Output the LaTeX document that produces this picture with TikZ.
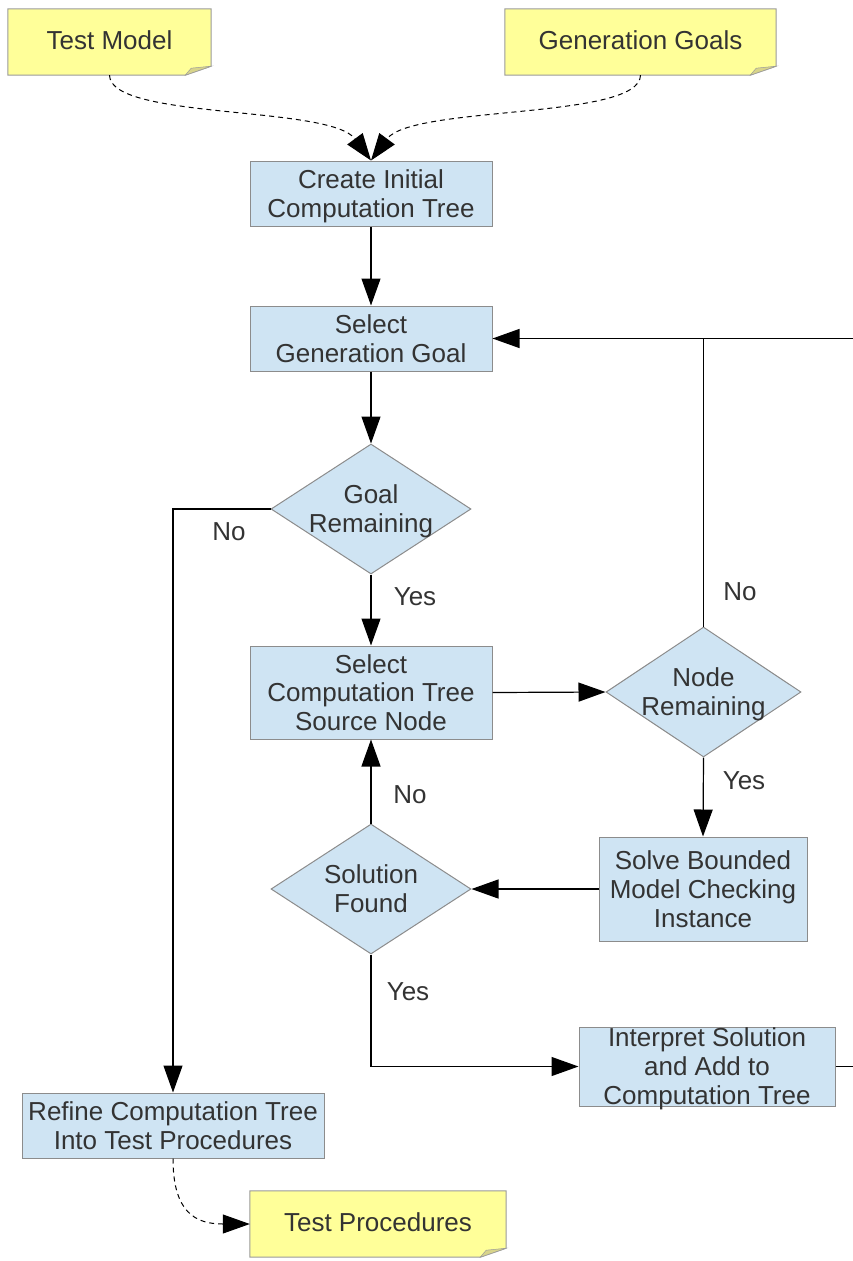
\documentclass[tikz,border=0pt]{standalone}
\usepackage{fontspec}
\setmainfont{Liberation Sans}
\usetikzlibrary{arrows.meta,shapes.geometric,backgrounds}

\definecolor{boxfill}{HTML}{CFE4F3}
\definecolor{boxline}{HTML}{8C8C8C}
\definecolor{notefill}{HTML}{FFFF99}
\definecolor{noteline}{HTML}{9B9B9B}
\definecolor{foldfill}{HTML}{D8D48A}
\definecolor{ink}{HTML}{333333}

% struts fixing the height and depth of first and last text lines
\newcommand\boxstrut{\rule[-5.1pt]{0pt}{28.8pt}}
\newcommand\notestrut{\rule[-6.9pt]{0pt}{28.8pt}}

\tikzset{
  every node/.style={font=\fontsize{26pt}{28.8pt}\selectfont, text=ink},
  procbox/.style={draw=boxline, fill=boxfill, line width=1pt, inner sep=0pt},
  decision/.style={shape=diamond, draw=boxline, fill=boxfill, line width=1pt, inner sep=0pt},
  txt/.style={inner sep=0pt, align=center, execute at end node=\boxstrut},
  note/.style={inner sep=0pt, align=center, execute at end node=\notestrut},
  lbl/.style={inner sep=0pt},
  flow/.style={draw=black, line width=1.2pt, -{Triangle[length=27pt,width=19pt]}},
  plainline/.style={draw=black, line width=1.2pt},
  dashflow/.style={draw=black, line width=1pt, dash pattern=on 5pt off 4pt,
    -{Triangle[length=27pt,width=19pt]}},
}

% yellow sticky note with a folded lower right corner, drawn behind a named node
\newcommand\stickynote[1]{%
  \begin{scope}[on background layer]
    \filldraw[fill=notefill, draw=noteline, line width=1pt]
      (#1.north west) -- (#1.north east) -- ([yshift=9pt]#1.south east)
      -- ([xshift=-26pt]#1.south east) -- (#1.south west) -- cycle;
    \filldraw[fill=foldfill, draw=noteline, line width=0.5pt]
      ([xshift=-26pt]#1.south east) -- ([xshift=-20pt,yshift=7pt]#1.south east)
      -- ([yshift=9pt]#1.south east) -- cycle;
  \end{scope}}

\begin{document}
\begin{tikzpicture}[x=1pt,y=-1pt]
\begin{scope}[on background layer]
  \fill[white] (0,0) rectangle (852,1261);
\end{scope}
\useasboundingbox (0,0) rectangle (852,1261);

% inputs
\node[note, minimum width=203pt, minimum height=66pt] (tm) at (109.5,42) {\notestrut Test Model};
\stickynote{tm}
\node[note, minimum width=271pt, minimum height=66pt] (gg) at (640.5,42) {\notestrut Generation Goals};
\stickynote{gg}

% process steps and decisions
\node[procbox, minimum width=242pt, minimum height=65pt] (cit) at (371,193.5) {};
\node[txt] (citt) at (cit) {\boxstrut Create Initial\\Computation Tree};
\node[procbox, minimum width=242pt, minimum height=65pt] (sgg) at (371,338.5) {};
\node[txt] (sggt) at (sgg) {\boxstrut Select\\Generation Goal};
\node[decision, minimum width=200pt, minimum height=130pt] (gr) at (371,509) {};
\node[txt] (grt) at (gr) {\boxstrut Goal\\Remaining};
\node[procbox, minimum width=242pt, minimum height=93pt] (scn) at (371,692.5) {};
\node[txt] (scnt) at (scn) {\boxstrut Select\\Computation Tree\\Source Node};
\node[decision, minimum width=195pt, minimum height=130pt] (nr) at (703.5,692) {};
\node[txt] (nrt) at (nr) {\boxstrut Node\\Remaining};
\node[procbox, minimum width=208pt, minimum height=104pt] (sbm) at (703,889) {};
\node[txt] (sbmt) at (sbm) {\boxstrut Solve Bounded\\Model Checking\\Instance};
\node[decision, minimum width=200pt, minimum height=130pt] (sf) at (371,889) {};
\node[txt] (sft) at (sf) {\boxstrut Solution\\Found};
\node[procbox, minimum width=256pt, minimum height=79pt] (ist) at (707,1066.5) {};
\node[txt] (istt) at (ist) {\boxstrut Interpret Solution\\and Add to\\Computation Tree};
\node[procbox, minimum width=302pt, minimum height=65pt] (rct) at (173,1125.5) {};
\node[txt] (rctt) at (rct) {\boxstrut Refine Computation Tree\\Into Test Procedures};

% output
\node[note, minimum width=256pt, minimum height=66pt] (tp) at (378,1224) {\notestrut Test Procedures};
\stickynote{tp}

% loop back, running past the right edge
\coordinate (offR) at (880,1066.5);
\coordinate (offT) at (880,338.5);

% connectors
\draw[dashflow] (tm.south) .. controls (110,120) and (330,105) .. (cit.north);
\draw[dashflow] (gg.south) .. controls (640,120) and (412,105) .. (cit.north);
\draw[flow] (cit) -- (sgg);
\draw[flow] (sgg) -- (gr);
\draw[flow] (gr.west) -| (rct.north);
\draw[flow] (gr.south) -- (scn.north);
\draw[flow] (scn.east) -- (nr.west);
\draw[flow] (nr.north) |- (sgg.east);
\draw[plainline] (offT) -- (nr.north |- sgg.east);
\draw[flow] (nr.south) -- (sbm.north);
\draw[flow] (sbm.west) -- (sf.east);
\draw[flow] (sf.north) -- (scn.south);
\draw[flow] (sf.south) |- (ist.west);
\draw[plainline] (ist.east) -- (offR);
\draw[dashflow] (rct.south) .. controls (173,1212) and (195,1224) .. (tp.west);

% branch labels
\node[lbl] (l1) at (229,532) {No};
\node[lbl] (l2) at (415,597) {Yes};
\node[lbl] (l3) at (740,592) {No};
\node[lbl] (l4) at (744,781) {Yes};
\node[lbl] (l5) at (410,795) {No};
\node[lbl] (l6) at (408,992) {Yes};
\end{tikzpicture}
\end{document}
